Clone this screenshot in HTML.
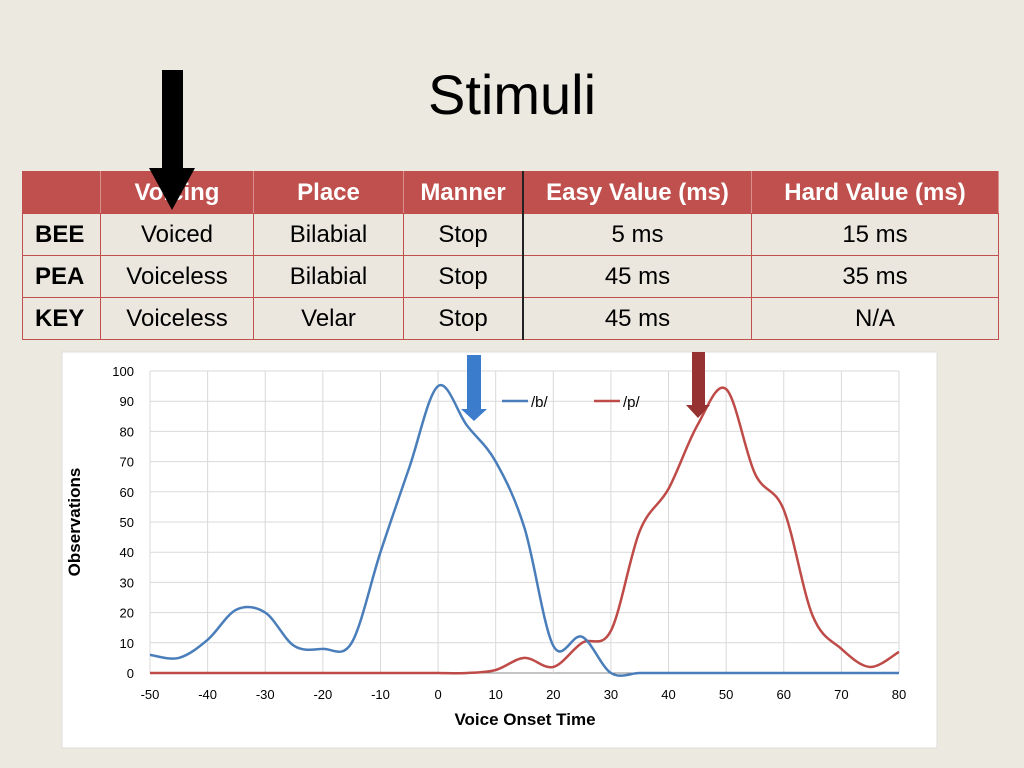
<!DOCTYPE html>
<html><head><meta charset="utf-8"><style>
body{margin:0;width:1024px;height:768px;background:#ece9e0;font-family:"Liberation Sans",sans-serif;position:relative;overflow:hidden}
.t{position:absolute}
table{position:absolute;left:22px;top:171px;width:977px;border-collapse:collapse;font-size:24px}
td{height:41px;text-align:center;border:1px solid #c0504d;padding:0;background:#ebe7df}
thead td{background:#c0504d;color:#fff;font-weight:bold;border-color:#c0504d;border-right:1px solid #d9908e}
td.b{font-weight:bold;text-align:left;padding-left:12px}
</style></head><body>
<div class="t" style="left:0;width:1024px;top:62px;text-align:center;font-size:56px;padding-left:0"><span style="margin-left:0">Stimuli</span></div>
<table>
<thead><tr><td style="width:77px"></td><td style="width:152px">Voicing</td><td style="width:149px">Place</td><td style="width:118px;border-right:2px solid #222">Manner</td><td style="width:227px">Easy Value (ms)</td><td>Hard Value (ms)</td></tr></thead>
<tr><td class="b">BEE</td><td>Voiced</td><td>Bilabial</td><td style="border-right:2px solid #222">Stop</td><td>5 ms</td><td>15 ms</td></tr>
<tr><td class="b">PEA</td><td>Voiceless</td><td>Bilabial</td><td style="border-right:2px solid #222">Stop</td><td>45 ms</td><td>35 ms</td></tr>
<tr><td class="b">KEY</td><td>Voiceless</td><td>Velar</td><td style="border-right:2px solid #222">Stop</td><td>45 ms</td><td>N/A</td></tr>
</table>
<svg class="t" style="left:0;top:0" width="1024" height="768" id="svg">
<polygon points="162,70 183,70 183,168 195,168 172,210 149,168 162,168" fill="#000"/>
<rect x="62" y="352" width="875" height="396" fill="#fff" stroke="#ddd"/>
<g id="grid"></g><g id="lines"></g>
<g>
<line x1="502" y1="401" x2="528" y2="401" stroke="#4a7ebb" stroke-width="2.5"/><text x="531" y="407" font-size="15">/b/</text>
<line x1="594" y1="401" x2="620" y2="401" stroke="#be4b48" stroke-width="2.5"/><text x="623" y="407" font-size="15">/p/</text>
</g>
<polygon points="467,355 481,355 481,409 487,409 474,421 461,409 467,409" fill="#3b7dcc"/>
<polygon points="692,352 705,352 705,405 710,405 698,418 686,405 692,405" fill="#963232"/>
<text x="525" y="725" font-size="17" font-weight="bold" text-anchor="middle">Voice Onset Time</text>
<text transform="translate(80,522) rotate(-90)" font-size="17" font-weight="bold" text-anchor="middle">Observations</text>
</svg>
<script>
const xs=[-50,-45,-40,-35,-30,-25,-20,-15,-10,-5,0,5,10,15,20,25,30,35,40,45,50,55,60,65,70,75,80];
const bVals=[6,5,11,21,20,9,8,10,40,68,95,82,70,48,9,12,0,0,0,0,0,0,0,0,0,0,0];
const pVals=[0,0,0,0,0,0,0,0,0,0,0,0,1,5,2,10,14,47,61,82,94,66,54,19,8,2,7];
const xTicks=[-50,-40,-30,-20,-10,0,10,20,30,40,50,60,70,80];
const yTicks=[0,10,20,30,40,50,60,70,80,90,100];
const X=v=>150+(v+50)/130*749, Y=v=>673-v/100*302;
const NS="http://www.w3.org/2000/svg";
const grid=document.getElementById('grid'), lines=document.getElementById('lines');
function mk(tag,a,p){const e=document.createElementNS(NS,tag);for(const k in a)e.setAttribute(k,a[k]);p.appendChild(e);return e;}
yTicks.forEach(t=>{
 const l=mk('line',{x1:150,x2:899,y1:Y(t),y2:Y(t),stroke:t?'#d9d9d9':'#888'},grid);
 
 
 const tx=mk('text',{x:134,y:Y(t)+5,'font-size':13,'text-anchor':'end'},grid);tx.textContent=t;
 
 
});
xTicks.forEach(t=>{
 const l=mk('line',{x1:X(t),x2:X(t),y1:371,y2:673,stroke:'#d9d9d9'},grid);
 
 
 const tx=mk('text',{x:X(t),y:699,'font-size':13,'text-anchor':'middle'},grid);tx.textContent=t;
 
 
});
function path(vals){
 const p=xs.map((x,i)=>[X(x),Y(vals[i])]);let d='M'+p[0][0]+','+p[0][1];
 for(let i=0;i<p.length-1;i++){const p0=p[Math.max(0,i-1)],p1=p[i],p2=p[i+1],p3=p[Math.min(p.length-1,i+2)];
  d+=` C${p1[0]+(p2[0]-p0[0])/6},${p1[1]+(p2[1]-p0[1])/6} ${p2[0]-(p3[0]-p1[0])/6},${p2[1]-(p3[1]-p1[1])/6} ${p2[0]},${p2[1]}`;}
 return d;}
const pl=mk('path',{d:path(pVals),fill:'none',stroke:'#be4b48','stroke-width':2.5},lines);


const bl=mk('path',{d:path(bVals),fill:'none',stroke:'#4a7ebb','stroke-width':2.5},lines);


</script>
</body></html>
